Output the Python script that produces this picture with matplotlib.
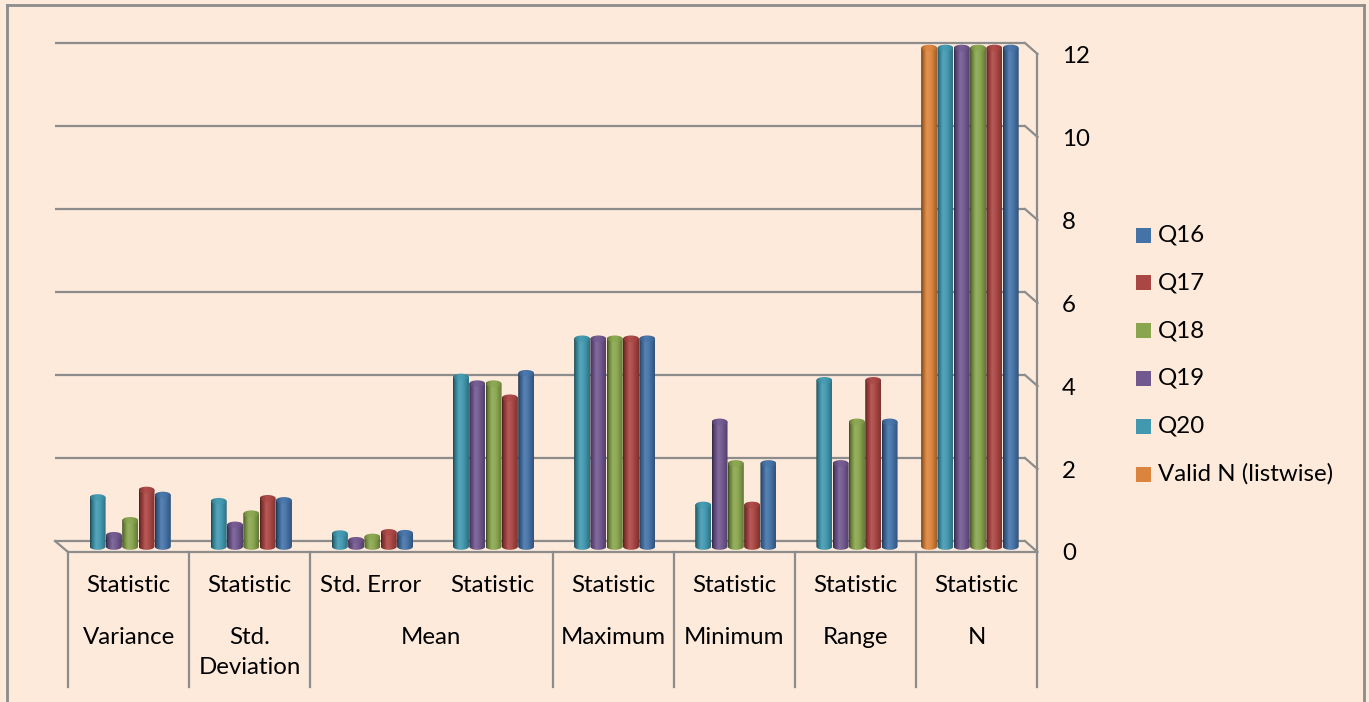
import numpy as np
import matplotlib
matplotlib.use("Agg")
import matplotlib.pyplot as plt
import matplotlib.transforms as mtransforms
from matplotlib.patches import Ellipse, PathPatch, Rectangle
from matplotlib.path import Path
from matplotlib.lines import Line2D
import matplotlib.colors as mcolors

# ---------------- data ----------------
top_labels = ["Statistic", "Statistic", "Std. Error", "Statistic",
              "Statistic", "Statistic", "Statistic", "Statistic"]
group_labels = ["Variance", "Std.\nDeviation", "Mean", "Maximum",
                "Minimum", "Range", "N"]
group_spans = [1, 1, 2, 1, 1, 1, 1]

series = ["Valid N (listwise)", "Q20", "Q19", "Q18", "Q17", "Q16"]
nan = np.nan
valid_n = [nan, nan, nan, nan, nan, nan, nan, 12]
q20 = [1.18, 1.09, 0.31, 4.08, 5, 1, 4, 12]
q19 = [0.27, 0.52, 0.15, 3.92, 5, 3, 2, 12]
q18 = [0.63, 0.79, 0.23, 3.92, 5, 2, 3, 12]
q17 = [1.36, 1.16, 0.34, 3.58, 5, 1, 4, 12]
q16 = [1.24, 1.11, 0.32, 4.17, 5, 2, 3, 12]
values = [valid_n, q20, q19, q18, q17, q16]
colors = ["#DB843D", "#4198AF", "#71588F", "#89A54E", "#AA4643", "#4572A7"]
y_ticks = [0, 2, 4, 6, 8, 10, 12]

# ---------------- figure ----------------
W, H = 1369, 702
BG = "#FDEADA"
GRID = "#8C8C8C"
FONT = "Lato"
FS = 17.3

fig = plt.figure(figsize=(W / 100, H / 100), dpi=100, facecolor=BG)
PIX = mtransforms.Affine2D().scale(1 / W, -1 / H).translate(0, 1) + fig.transFigure


def axes_at(x_px, xlim, y_px0, y_px1, v0, v1, ylim):
    """Place axes so xlim spans x_px, and value v0->y_px0, v1->y_px1."""
    s = (y_px0 - y_px1) / (v1 - v0)
    bottom_px = y_px0 + (v0 - ylim[0]) * s
    top_px = y_px0 - (ylim[1] - v0) * s
    ax = fig.add_axes([x_px[0] / W, 1 - bottom_px / H,
                       (x_px[1] - x_px[0]) / W, (bottom_px - top_px) / H])
    ax.set_xlim(*xlim)
    ax.set_ylim(*ylim)
    ax.patch.set_alpha(0)
    for sp in ax.spines.values():
        sp.set_visible(False)
    ax.set_xticks([])
    ax.set_yticks([])
    return ax


n_cat = len(top_labels)
xlim = (-0.5, n_cat - 0.5)

# back wall (gridlines)
ax_b = axes_at((55, 1025), xlim, 541, 43, 0, 12, (-0.3, 12.3))
for v in y_ticks:
    ax_b.axhline(v, color=GRID, lw=1.6, zorder=1)

# diagonals connecting back wall to front edge
for v in y_ticks:
    yb = 541 - 41.5 * v
    yf = 552 - 41.5 * v
    fig.add_artist(Line2D([1025, 1037.5], [yb, yf], color=GRID, lw=1.6,
                          transform=PIX))
fig.add_artist(Line2D([55, 68], [541, 552], color=GRID, lw=1.6, transform=PIX))

# bars (middle depth plane)
ax = axes_at((61.5, 1030.5), xlim, 546.5, 48, 0, 12, (-0.5, 12.5))
ax.set_zorder(2)

slot = 0.1346
bw = 0.132
eh = 0.16
x = np.arange(n_cat)


def shade(rgb, prof_x, prof_f, n=64):
    t = np.linspace(0, 1, n)
    f = np.interp(t, prof_x, prof_f)[:, None]
    rgb = np.array(rgb)[None, :]
    out = np.where(f <= 1, rgb * f, rgb + (1 - rgb) * (f - 1))
    return np.clip(out, 0, 1)[None, :, :]


side_x = [0, 0.1, 0.38, 0.62, 0.85, 1]
side_f = [0.42, 0.72, 1.12, 1.04, 0.85, 0.72]
top_f = [0.6, 0.85, 1.05, 1.02, 0.92, 0.82]

zc = 3
for i, (name, vals, col) in enumerate(zip(series, values, colors)):
    rgb = mcolors.to_rgb(col)
    offs = (i - (len(series) - 1) / 2) * slot
    bars = ax.bar(x + offs, vals, width=bw, color=col, linewidth=0, zorder=zc)
    side_img = shade(rgb, side_x, side_f)
    top_img = shade(rgb, side_x, top_f)
    for rect in bars:
        h = rect.get_height()
        if not np.isfinite(h):
            continue
        x0, w = rect.get_x(), rect.get_width()
        xc = x0 + w / 2
        ang = np.linspace(np.pi, 2 * np.pi, 30)
        verts = [(x0, h), (x0, 0)]
        verts += list(zip(xc + w / 2 * np.cos(ang), eh / 2 * np.sin(ang)))
        verts += [(x0 + w, h), (x0, h)]
        codes = [Path.MOVETO] + [Path.LINETO] * (len(verts) - 2) + [Path.CLOSEPOLY]
        clip = PathPatch(Path(verts, codes), transform=ax.transData)
        rect.set_visible(False)
        im = ax.imshow(side_img, extent=(x0, x0 + w, -eh, h), aspect="auto",
                       interpolation="bilinear", zorder=zc)
        im.set_clip_path(clip)
        top = Ellipse((xc, h), w, eh, transform=ax.transData)
        im2 = ax.imshow(top_img, extent=(x0, x0 + w, h - eh, h + eh),
                        aspect="auto", interpolation="bilinear", zorder=zc + 0.001)
        im2.set_clip_path(top)
        zc += 0.01
ax.set_xlim(*xlim)
ax.set_ylim(-0.5, 12.5)

# front plane (tick labels + table)
ax_f = axes_at((68, 1037), xlim, 552, 54.5, 0, 12, (0, 12))
ax_f.set_zorder(3)
ax_f.yaxis.tick_right()
ax_f.set_yticks(y_ticks)
ax_f.set_yticklabels([str(v) for v in y_ticks], family=FONT, fontsize=FS)
ax_f.tick_params(axis="y", length=0, pad=18)

BT = mtransforms.blended_transform_factory(ax_f.transData, PIX)
# floor front edge
ax_f.add_artist(Line2D([-0.5, n_cat - 0.5], [552, 552], color=GRID, lw=1.6,
                       transform=BT, clip_on=False))
# right edge
ax_f.add_artist(Line2D([n_cat - 0.5, n_cat - 0.5], [54, 687], color=GRID, lw=1.6,
                       transform=BT, clip_on=False))
# table verticals
bounds = np.concatenate([[0], np.cumsum(group_spans)]) - 0.5
for b in bounds[:-1]:
    ax_f.add_artist(Line2D([b, b], [552, 687], color=GRID, lw=1.6,
                           transform=BT, clip_on=False))

for i, lab in enumerate(top_labels):
    ax_f.text(i, 585, lab, transform=BT, ha="center", va="center",
              family=FONT, fontsize=FS, clip_on=False)
for j, lab in enumerate(group_labels):
    c = (bounds[j] + bounds[j + 1]) / 2
    ax_f.text(c, 627, lab, transform=BT, ha="center", va="top",
              family=FONT, fontsize=FS, linespacing=1.5, clip_on=False)

# legend (reversed order)
for k, (name, col) in enumerate(zip(series[::-1], colors[::-1])):
    yc = 235 + 47.8 * k
    fig.add_artist(Rectangle((1136, yc - 7.5), 15, 15, transform=PIX,
                             facecolor=col, edgecolor="none"))
    fig.text(1158 / W, 1 - yc / H, name, ha="left", va="center",
             family=FONT, fontsize=FS)

# outer border
for xs, ys in [([7, 7], [5, 702]), ([7, 1364], [5, 5]), ([1364, 1364], [5, 702])]:
    fig.add_artist(Line2D(xs, ys, color="#8C8C8C", lw=2, transform=PIX))

fig.savefig("out.png", dpi=100, facecolor=BG)
